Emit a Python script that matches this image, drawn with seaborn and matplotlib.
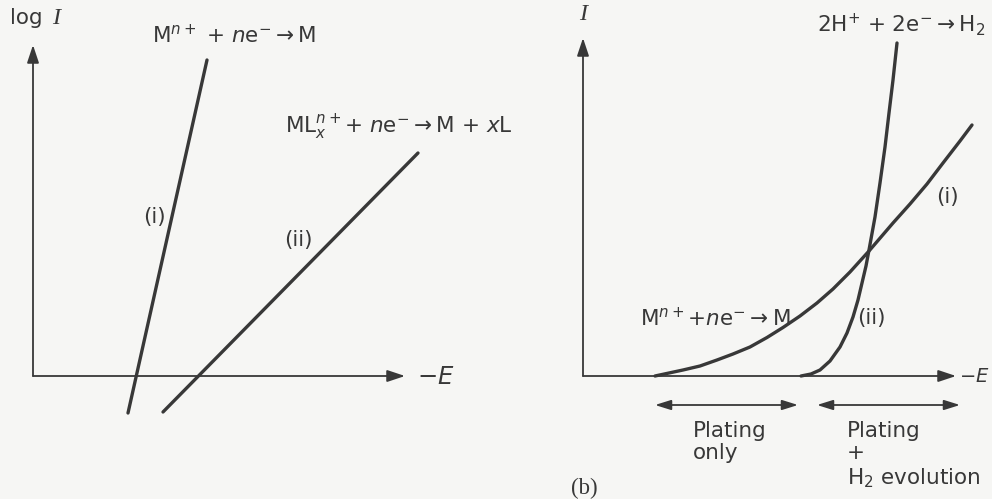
import matplotlib
matplotlib.use("Agg")
import matplotlib.pyplot as plt
import seaborn as sns

# ---- data: (a) Tafel plots, log I against -E ----
tafel_E_i = [95, 174]
tafel_logI_i = [-37, 316]
tafel_E_ii = [130, 385]
tafel_logI_ii = [-36, 223]

# ---- data: (b) current against -E ----
plating_E = [72, 86, 100, 117, 134, 150, 167, 184, 200, 217, 234, 250, 267,
             286, 298, 310, 327, 344, 360, 377, 389]
plating_I = [0, 3, 6, 10, 16, 22, 29, 38.5, 48.5, 60, 73, 87, 104,
             125, 139, 153, 172, 192, 213, 235, 251]
h2_E = [218, 228, 237, 247, 257, 264, 270, 275, 279, 283, 286, 292, 297,
        302, 306, 310, 314]
h2_I = [0, 2, 6, 15, 29, 43, 59, 76, 93, 110, 126, 159, 193,
        229, 263, 296, 333]

ink = "#383838"
paper = "#f6f6f4"

sns.set_theme(style="white")
plt.rcParams["font.family"] = ["DejaVu Sans"]
plt.rcParams["mathtext.fontset"] = "dejavusans"

fig = plt.figure(figsize=(9.92, 4.99), dpi=100, facecolor=paper)
ax1 = fig.add_axes([0, 0, 500 / 992, 1])
ax2 = fig.add_axes([500 / 992, 0, 492 / 992, 1])
ax1.set_xlim(-33, 467)
ax1.set_ylim(-123, 376)
ax2.set_xlim(-83, 409)
ax2.set_ylim(-123, 376)
for ax in (ax1, ax2):
    ax.set_axis_off()
    ax.patch.set_alpha(0)

fs = 15.5
axis_arrow = dict(arrowstyle="-|>,head_length=0.9,head_width=0.3",
                  color=ink, lw=1.3, shrinkA=0, shrinkB=0)
serif = ["Liberation Serif", "DejaVu Serif"]
curve_kw = dict(color=ink, lw=2.4, sort=False, estimator=None)

# ---------------- panel (a) ----------------
ax1.annotate("", xy=(0, 331), xytext=(0, 0), arrowprops=axis_arrow)
ax1.annotate("", xy=(372, 0), xytext=(0, 0), arrowprops=axis_arrow)
ax1.text(-23, 358, "log", fontsize=fs, color=ink, ha="left", va="center")
ax1.text(19, 358, "I", fontsize=fs + 2, color=ink, ha="left", va="center",
         family=serif, style="italic")
ax1.text(384, -1, r"$-E$", fontsize=fs + 2, color=ink, ha="left", va="center")

sns.lineplot(x=tafel_E_i, y=tafel_logI_i, ax=ax1, **curve_kw)
sns.lineplot(x=tafel_E_ii, y=tafel_logI_ii, ax=ax1, **curve_kw)

ax1.text(121, 159, "(i)", fontsize=fs, color=ink, ha="center", va="center")
ax1.text(265, 136, "(ii)", fontsize=fs, color=ink, ha="center", va="center")
ax1.text(119, 341, r"M$^{n+}$ + $n$e$^{-}$$\rightarrow$M", fontsize=fs,
         color=ink, ha="left", va="center")
ax1.text(252, 249, r"ML$_{x}^{n+}$+ $n$e$^{-}$$\rightarrow$M + $x$L",
         fontsize=fs, color=ink, ha="left", va="center")

# ---------------- panel (b) ----------------
ax2.annotate("", xy=(0, 338), xytext=(0, 0), arrowprops=axis_arrow)
ax2.annotate("", xy=(373, 0), xytext=(0, 0), arrowprops=axis_arrow)
ax2.text(0, 362, "I", fontsize=fs + 2, color=ink, ha="center", va="center",
         family=serif, style="italic")
ax2.text(376, -1, r"$-E$", fontsize=14, color=ink, ha="left", va="center")

sns.lineplot(x=plating_E, y=plating_I, ax=ax2, **curve_kw)
sns.lineplot(x=h2_E, y=h2_I, ax=ax2, **curve_kw)

ax2.text(234, 351, r"2H$^{+}$ + 2e$^{-}$$\rightarrow$H$_2$", fontsize=fs,
         color=ink, ha="left", va="center")
ax2.text(364, 179, "(i)", fontsize=fs, color=ink, ha="center", va="center")
ax2.text(274, 58, "(ii)", fontsize=fs, color=ink, ha="left", va="center")
ax2.text(57, 58, r"M$^{n+}$+$n$e$^{-}$$\rightarrow$M", fontsize=fs,
         color=ink, ha="left", va="center")

span_arrow = dict(arrowstyle="<|-|>,head_length=0.8,head_width=0.25",
                  color=ink, lw=1.3, shrinkA=0, shrinkB=0)
ax2.annotate("", xy=(215, -29), xytext=(72, -29), arrowprops=span_arrow)
ax2.annotate("", xy=(377, -29), xytext=(234, -29), arrowprops=span_arrow)
ax2.text(110, -45, "Plating\nonly", fontsize=fs, color=ink, ha="left",
         va="top", linespacing=1.15)
ax2.text(264, -45, "Plating\n+\nH$_2$ evolution", fontsize=fs, color=ink,
         ha="left", va="top", linespacing=1.15)
ax2.text(1, -112, "(b)", fontsize=fs + 1, color=ink, ha="center",
         va="center", family=serif)

fig.savefig("out.png", dpi=100, facecolor=paper)
